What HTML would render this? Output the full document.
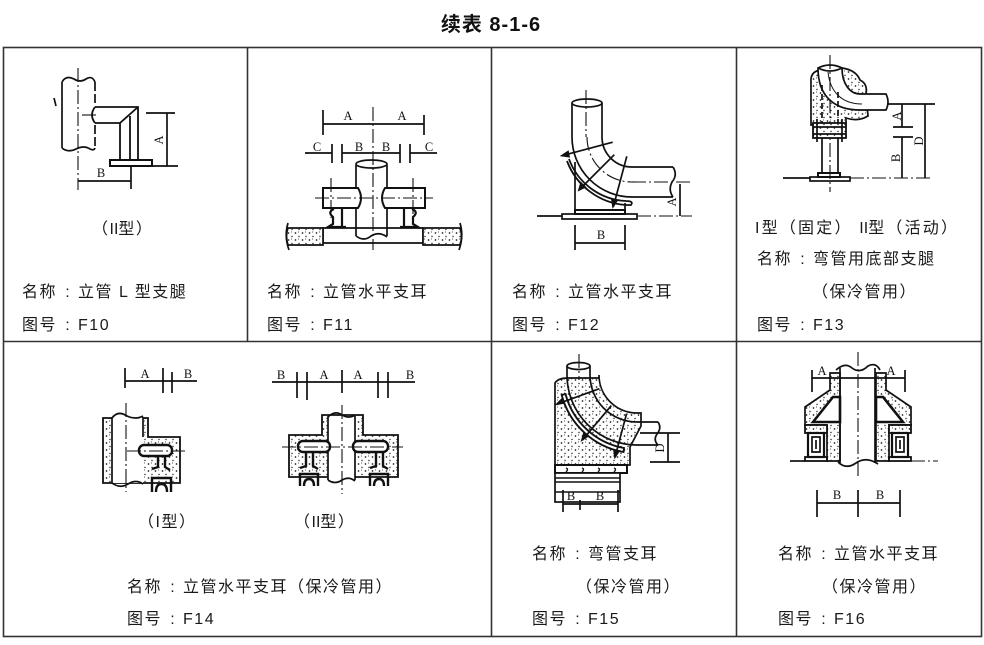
<!DOCTYPE html>
<html><head><meta charset="utf-8">
<style>
html,body{margin:0;padding:0;background:#fff;}
body{width:984px;height:645px;position:relative;overflow:hidden;font-family:"Liberation Sans","Noto Sans CJK SC",sans-serif;color:#1a1a1a;}
.t{position:absolute;font-size:16px;line-height:20px;letter-spacing:1.5px;white-space:nowrap;}
.c{display:inline-block;width:21px;text-align:center;letter-spacing:0;}
.n{letter-spacing:0;}
.ttl{position:absolute;left:391px;width:200px;top:12px;text-align:center;font-size:20px;font-weight:bold;line-height:26px;letter-spacing:1px;color:#111;}
svg{position:absolute;left:0;top:0;}
svg text{font-family:"Liberation Serif",serif;font-size:12.5px;fill:#111;stroke:none;text-anchor:middle;}
.cl{stroke-dasharray:14 3 2 3;stroke-width:1.1;}
</style></head><body>
<svg width="984" height="645" viewBox="0 0 984 645">
<defs>
<pattern id="d" width="7" height="7" patternUnits="userSpaceOnUse">
<rect width="7" height="7" fill="#fff"/>
<circle cx="1.5" cy="2" r="0.85" fill="#222"/><circle cx="5" cy="5.5" r="0.7" fill="#222"/><circle cx="4.5" cy="1" r="0.5" fill="#222"/>
</pattern>
</defs>
<g stroke="#111" stroke-width="1.7" fill="none">
<!-- table -->
<g stroke="#333" stroke-width="1.6">
<rect x="3.5" y="47.5" width="978" height="589"/>
<line x1="3" y1="341.5" x2="982" y2="341.5"/>
<line x1="247.5" y1="47" x2="247.5" y2="341"/>
<line x1="491.5" y1="47" x2="491.5" y2="636"/>
<line x1="736.5" y1="47" x2="736.5" y2="636"/>
</g>

<!-- F10 -->
<line class="cl" x1="78" y1="68" x2="78" y2="190"/>
<path d="M62 82 L62 148"/>
<path d="M95 82 L95 104 M95 125 L95 148" stroke-dasharray="9 3"/>
<path d="M62 82 Q66 75 74 79 Q80 83 86 79 Q92 75 95 82"/>
<path d="M62 148 Q68 153 76 149 Q84 145 90 149 Q94 151 95 148"/>
<path d="M54 98 L56 106"/>
<path d="M95 107 L138 107 L138 161 M95 123 L120 123 L120 161 M120 123 L138 107 M130 116 L130 161" stroke-width="1.8"/>
<path d="M95 107 Q89 115 95 123" stroke-width="1.8"/>
<line class="cl" x1="82" y1="115" x2="96" y2="115"/>
<rect x="110" y="160" width="42" height="6" stroke-width="2"/>
<path d="M146 113 L175 113 M152 166 L178 166 M167 113 L167 166"/>
<text x="160" y="140" transform="rotate(-90 160 140)" dominant-baseline="middle">A</text>
<path d="M78 181 L131 181 M131 167 L131 189"/>
<text x="101" y="177">B</text>

<!-- F11 -->
<line class="cl" x1="373" y1="107" x2="373" y2="250"/>
<path d="M323 124 L424 124 M323 110 L323 135 M424 115 L424 135"/>
<text x="348" y="120">A</text><text x="402" y="120">A</text>
<path d="M305 153 L332 153 M342 153 L400 153 M410 153 L437 153 M332 144 L332 163 M342 144 L342 163 M400 144 L400 163 M410 144 L410 163"/>
<text x="317" y="151">C</text><text x="359" y="151">B</text><text x="386" y="151">B</text><text x="429" y="151">C</text>
<path d="M356 165 L356 236 M387 165 L387 236"/>
<ellipse cx="371.5" cy="164" rx="15.5" ry="4"/>
<path d="M356 236 Q364 242 371 236 Q379 231 387 237"/>
<path d="M358 188 L323 188 L323 208 L358 208 Q364 198 358 188 Z" fill="#fff" stroke-width="2"/>
<path d="M385 188 L425 188 L425 208 L385 208 Q379 198 385 188 Z" fill="#fff" stroke-width="2"/>
<line class="cl" x1="315" y1="198" x2="433" y2="198"/>
<line class="cl" x1="331" y1="178" x2="331" y2="218"/><line class="cl" x1="413" y1="178" x2="413" y2="218"/>
<path d="M342 208 L342 227 M334 209 Q327 212 333 217 L333 224 L328 227 L346 227" stroke-width="2.2"/>
<path d="M404 208 L404 227 M412 209 Q419 212 413 217 L413 224 L418 227 L400 227" stroke-width="2.2"/>
<path d="M323 228 L423 228 L423 243 L323 243 Z"/>
<path d="M288 228 L323 228 L323 245 L288 245 Q285 236 288 228 Z" fill="url(#d)"/>
<path d="M423 228 L460 228 Q463 236 460 245 L423 245 Z" fill="url(#d)"/>
<path d="M288 223 Q284 236 289 250 M460 223 Q464 236 459 250"/>

<!-- F12 -->
<line class="cl" x1="586" y1="90" x2="586" y2="137"/>
<ellipse cx="587" cy="103" rx="15" ry="4"/>
<path d="M572 103 L572 137 A60 60 0 0 0 632 197 L673 197"/>
<path d="M602 103 L602 137 A30 30 0 0 0 632 167 L673 167"/>
<path d="M673 167 Q678 175 672 182 Q668 190 673 197"/>
<path d="M587 137 A45 45 0 0 0 632 182" class="cl"/>
<line class="cl" x1="632" y1="182" x2="692" y2="182"/>
<path d="M612.7 142.2 L562.4 155.6 M614.3 154.7 L579 190 M626.8 156.3 L613.4 206.5"/>
<path d="M562 155.6 l6 -4 l1 5 z M579 190 l2 -7 l4 4 z M613 206.5 l-1 -7 l5 1 z" fill="#111"/>
<path d="M569 159 A64 64 0 0 0 626 201 M567 161 A68 68 0 0 0 626 205 M626 201 Q634 201 631 205 L626 205" stroke-width="1.8"/>
<path d="M575 162 L575 212 M625 203 L625 212"/>
<rect x="575" y="210" width="50" height="4" stroke-width="2"/>
<rect x="562" y="214" width="75" height="5"/>
<path d="M537 216 L562 216"/>
<line class="cl" x1="637" y1="216" x2="692" y2="216"/>
<path d="M680 184 L680 216"/>
<text x="673" y="202" transform="rotate(-90 673 202)" dominant-baseline="middle">A</text>
<path d="M575 243 L625 243 M575 225 L575 250 M625 225 L625 250"/>
<text x="601" y="239">B</text>

<!-- F13 -->
<path d="M811 125 L811 82 Q810 72 820 70 Q830 62 842 68 Q856 70 860 80 Q868 84 866 94 L868 116 Q858 122 846 118 L846 125 Z" fill="url(#d)"/>
<path d="M818 68 C818 98 836 110 860 110 L886 110 Q890 102 886 94 L860 94 C850 94 842 84 842 68 Q830 62 818 68 Z" fill="#fff" stroke-width="1.7"/>
<path d="M818 68 Q830 74 842 68"/>
<path d="M828 72 C830 92 842 104 862 104" stroke-width="1"/>
<path d="M822 85 L822 125 M838 92 L838 125" stroke-dasharray="6 3"/>
<line class="cl" x1="830" y1="55" x2="830" y2="192"/>
<rect x="813" y="123" width="33" height="15" fill="url(#d)" stroke-width="1.8"/>
<path d="M813 127 L846 127 M813 134 L846 134 M817 119 L817 142 M842 119 L842 142"/>
<path d="M822 138 L822 174 M838 138 L838 174"/>
<rect x="818" y="173" width="22" height="4" stroke-width="2"/>
<rect x="810" y="177" width="40" height="4"/>
<path d="M783 178 L810 178"/>
<line class="cl" x1="850" y1="178" x2="932" y2="178"/>
<path d="M887 104 L935 104 M925 104 L925 178 M902 104 L902 127 M893 127 L913 127 M902 137 L902 178 M893 137 L913 137"/>
<text x="898" y="116" transform="rotate(-90 898 116)" dominant-baseline="middle">A</text>
<text x="897" y="158" transform="rotate(-90 897 158)" dominant-baseline="middle">B</text>
<text x="920" y="141" transform="rotate(-90 920 141)" dominant-baseline="middle">D</text>

<!-- F14 type I -->
<path d="M125 381 L197 381 M125 368 L125 388 M163 368 L163 393 M172 372 L172 393"/>
<text x="145" y="378">A</text><text x="188" y="378">B</text>
<path d="M103 418 L103 483 L180 483 L180 437 L148 437 L148 418 Z" fill="url(#d)" stroke-width="1.8"/>
<path d="M112 417 L112 483 L143 483 L143 417 Z" fill="#fff" stroke="none"/>
<path d="M112 417 L112 483 M143 417 L143 437"/>
<path d="M112 418 Q118 410 127 416 Q136 420 143 416"/>
<path d="M112 483 Q120 489 128 484 Q136 479 143 484"/>
<line class="cl" x1="126" y1="403" x2="126" y2="492"/>
<rect x="139" y="445" width="33" height="11" rx="5" fill="#fff" stroke-width="2.4"/>
<line class="cl" x1="127" y1="451" x2="185" y2="451"/>
<path d="M158 456 L158 467 L152 469 M165 456 L165 467 L170 470" stroke-width="2.4"/>
<path d="M152 492 L152 478 L171 478 L171 492 M156 492 Q156 484 161.5 484 Q167 484 167 492" stroke-width="2.4"/>

<!-- F14 type II -->
<path d="M272 382 L415 382 M297 372 L297 398 M307 372 L307 400 M342 370 L342 393 M378 372 L378 398 M388 372 L388 398"/>
<text x="281" y="379">B</text><text x="324" y="379">A</text><text x="358" y="379">A</text><text x="410" y="379">B</text>
<path d="M289 435 L322 435 L322 415 L363 415 L363 435 L398 435 L398 477 L289 477 Z" fill="url(#d)" stroke-width="1.8"/>
<path d="M328 416 L355 416 L355 480 L328 480 Z" fill="#fff" stroke="none"/>
<path d="M328 416 L328 480 M355 416 L355 480"/>
<path d="M328 417 Q335 410 342 415 Q349 419 355 415"/>
<path d="M328 480 Q335 485 342 480 Q349 476 355 481"/>
<line class="cl" x1="342" y1="405" x2="342" y2="494"/>
<rect x="298" y="441" width="32" height="11" rx="5" fill="#fff" stroke-width="2.4"/>
<rect x="353" y="441" width="35" height="11" rx="5" fill="#fff" stroke-width="2.4"/>
<line class="cl" x1="282" y1="447" x2="403" y2="447"/>
<path d="M306 453 L306 466 L300 468 M313 453 L313 466 L318 469" stroke-width="2.4"/>
<path d="M300 486 L300 474 L318 474 L318 486 M304 486 Q304 479 309 479 Q314 479 314 486" stroke-width="2.4"/>
<path d="M376 453 L376 466 L370 468 M383 453 L383 466 L388 469" stroke-width="2.4"/>
<path d="M370 486 L370 474 L388 474 L388 486 M374 486 Q374 479 379 479 Q384 479 384 486" stroke-width="2.4"/>

<!-- F15 -->
<path d="M555 465 L555 383 Q558 378 568 378 L599 378 L599 375 A38 38 0 0 0 637 413 L641 413 L641 426 L630 447 L630 465 Z" fill="url(#d)" stroke-width="1.7"/>
<ellipse cx="578.5" cy="366" rx="11.5" ry="3.5" fill="#fff"/>
<path d="M567 366 L567 375 A70 70 0 0 0 637 445 L658 445"/>
<path d="M590 366 L590 375 A47 47 0 0 0 637 422 L658 422"/>
<path d="M658 422 Q662 428 657 434 Q653 440 658 445"/>
<line class="cl" x1="579" y1="354" x2="579" y2="380"/>
<path d="M565.5 394 A74 74 0 0 0 624 448 L623.5 452 A78 78 0 0 1 561.7 395 Z" fill="#fff" stroke-width="1.9"/>
<path d="M599.4 388.7 L557.1 404.1 M611.3 405.6 L582.4 440.1 M626.6 413.6 L615 457.1"/>
<path d="M557 404 l5 -5 l2 4 z M582 440 l2 -7 l4 3 z M615 457 l-1 -7 l5 1 z" fill="#111"/>
<rect x="555" y="465" width="72" height="8" fill="#fff" stroke-width="2"/>
<path d="M566 468 q3 1 0 4 M582 468 q3 1 0 4 M598 468 q3 1 0 4 M614 468 q3 1 0 4" stroke-width="1.3"/>
<rect x="555" y="473" width="65" height="29" fill="#fff"/>
<path d="M555 478 L620 478 M555 482 L620 482 M555 492 L620 492" stroke-width="1.4"/>
<path d="M563 504 L618 504 M563 490 L563 512 M580 500 L580 510 M618 490 L618 512"/>
<text x="571" y="500">B</text><text x="600" y="500">B</text>
<path d="M640 433 L680 433 M650 462 L680 462 M668 433 L668 462"/>
<text x="661" y="448" transform="rotate(-90 661 448)" dominant-baseline="middle">D</text>

<!-- F16 -->
<g>
<path d="M830 373 L840 373 L840 461 L827 461 L827 425 L805 425 L805 407 L830 390 Z" fill="url(#d)" stroke-width="1.7"/>
<path d="M813 422 L833 397 L840 397 L840 422 Z" fill="#fff" stroke-width="2.6"/>
<rect x="805" y="425" width="22" height="8" fill="url(#d)" stroke-width="1.8"/>
<rect x="808" y="433" width="16" height="24" fill="#fff" stroke-width="2.2"/>
<path d="M812 437 L820 437 L820 452 L812 452 Z M816 440 L816 449"/>
<rect x="805" y="457" width="22" height="4" stroke-width="1.8"/>
</g>
<g transform="translate(1716,0) scale(-1,1)">
<path d="M830 373 L840 373 L840 461 L827 461 L827 425 L805 425 L805 407 L830 390 Z" fill="url(#d)" stroke-width="1.7"/>
<path d="M813 422 L833 397 L840 397 L840 422 Z" fill="#fff" stroke-width="2.6"/>
<rect x="805" y="425" width="22" height="8" fill="url(#d)" stroke-width="1.8"/>
<rect x="808" y="433" width="16" height="24" fill="#fff" stroke-width="2.2"/>
<path d="M812 437 L820 437 L820 452 L812 452 Z M816 440 L816 449"/>
<rect x="805" y="457" width="22" height="4" stroke-width="1.8"/>
</g>
<path d="M840 368 L840 463 M875 368 L875 463"/>
<path d="M836 370 Q845 362 852 368 Q860 374 868 366 Q876 362 880 370"/>
<path d="M838 462 Q846 470 856 463 Q866 456 878 464"/>
<line class="cl" x1="858" y1="352" x2="858" y2="478"/>
<path d="M812 378 L905 378 M812 370 L812 392 M905 370 L905 392"/>
<text x="822" y="375">A</text><text x="891" y="375">A</text>
<path d="M790 461 L805 461"/>
<line class="cl" x1="911" y1="461" x2="938" y2="461"/>
<path d="M817 503 L900 503 M817 490 L817 517 M858 490 L858 517 M900 490 L900 517"/>
<text x="837" y="499">B</text><text x="880" y="499">B</text>
</g>
</svg>

<div class="ttl">续表 8-1-6</div>

<div class="t" style="left:92px;top:220px;">（<span class="n">II</span>型）</div>
<div class="t" style="left:22px;top:283px;">名称<span class="c">:</span>立管 L 型支腿</div>
<div class="t" style="left:22px;top:316px;">图号<span class="c">:</span>F10</div>

<div class="t" style="left:267px;top:283px;">名称<span class="c">:</span>立管水平支耳</div>
<div class="t" style="left:267px;top:316px;">图号<span class="c">:</span>F11</div>

<div class="t" style="left:512px;top:283px;">名称<span class="c">:</span>立管水平支耳</div>
<div class="t" style="left:512px;top:316px;">图号<span class="c">:</span>F12</div>

<div class="t" style="left:755px;top:219px;letter-spacing:2.2px;">I型（固定） <span class="n">II</span>型（活动）</div>
<div class="t" style="left:757px;top:250px;">名称<span class="c">:</span>弯管用底部支腿</div>
<div class="t" style="left:812px;top:283px;">（保冷管用）</div>
<div class="t" style="left:757px;top:316px;">图号<span class="c">:</span>F13</div>

<div class="t" style="left:138px;top:513px;">（I型）</div>
<div class="t" style="left:294px;top:513px;">（<span class="n">II</span>型）</div>
<div class="t" style="left:127px;top:578px;">名称<span class="c">:</span>立管水平支耳（保冷管用）</div>
<div class="t" style="left:127px;top:610px;">图号<span class="c">:</span>F14</div>

<div class="t" style="left:532px;top:545px;">名称<span class="c">:</span>弯管支耳</div>
<div class="t" style="left:576px;top:578px;">（保冷管用）</div>
<div class="t" style="left:532px;top:610px;">图号<span class="c">:</span>F15</div>

<div class="t" style="left:778px;top:545px;">名称<span class="c">:</span>立管水平支耳</div>
<div class="t" style="left:822px;top:578px;">（保冷管用）</div>
<div class="t" style="left:778px;top:610px;">图号<span class="c">:</span>F16</div>
</body></html>
